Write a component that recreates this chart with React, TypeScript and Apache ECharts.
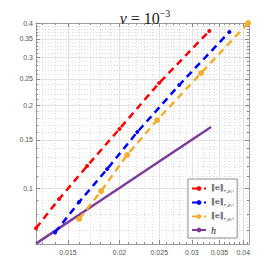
import React, { useEffect, useRef } from "react";
import * as echarts from "echarts";

// tick values
const xMajorTicks = [0.015, 0.02, 0.025, 0.03, 0.035, 0.04];
const yMajorTicks = [0.1, 0.15, 0.2, 0.25, 0.3, 0.35, 0.4];
const xMinorTicks = [0.013, 0.014, 0.016, 0.017, 0.018, 0.019, 0.021, 0.022, 0.023, 0.024, 0.026, 0.027, 0.028, 0.029, 0.031, 0.032, 0.033, 0.034, 0.036, 0.037, 0.038, 0.039, 0.041];
const yMinorTicks = [0.07, 0.08, 0.09, 0.11, 0.12, 0.13, 0.14, 0.16, 0.17, 0.18, 0.19, 0.21, 0.22, 0.23, 0.24, 0.26, 0.27, 0.28, 0.29, 0.31, 0.32, 0.33, 0.34, 0.36, 0.37, 0.38, 0.39];
const xRange = [0.01254, 0.0413];
const yRange = [0.0625, 0.4];

// series
const redH = [0.01254, 0.01427, 0.01669, 0.02, 0.02498, 0.03307];
const redErr = [0.0714, 0.0912, 0.1203, 0.1642, 0.2417, 0.374];
const blueH = [0.01395, 0.01596, 0.01867, 0.0221, 0.02795, 0.037];
const blueErr = [0.0688, 0.0889, 0.1173, 0.16, 0.2376, 0.371];
const orangeH = [0.01596, 0.01805, 0.02088, 0.0247, 0.0316, 0.0411];
const orangeErr = [0.0771, 0.0975, 0.132, 0.177, 0.2628, 0.4];
const refH = [0.01254, 0.01427, 0.01669, 0.02, 0.02498, 0.0334];
const refVal = [0.0627, 0.0714, 0.0835, 0.1, 0.1249, 0.167];

const names = ["‖e‖*,𝒯ₕ²", "‖e‖*,𝒯ₕ¹", "‖e‖*,𝒯ₕ⁰", "h"];

const L = Math.log;
const pts = (xs: number[], ys: number[]) => xs.map((x, i) => [L(x), L(ys[i])]);
const fmt = (v: number) => String(Number(Math.exp(v).toPrecision(3)));

const frame = "#9c9c9c";
const tickCol = "#8a8a8a";

function App() {
  const ref = useRef<HTMLDivElement>(null);
  useEffect(() => {
    const chart = echarts.init(ref.current!, undefined, { renderer: "svg" });
    const xBase = { type: "value", min: L(xRange[0]), max: L(xRange[1]) };
    const yBase = { type: "value", min: L(yRange[0]), max: L(yRange[1]) };
    const major = (vals: number[], withLabels: boolean, labelMargin: number) => ({
      axisLine: { show: true, onZero: false, lineStyle: { color: frame, width: 1 } },
      axisTick: { show: true, inside: true, length: 4, customValues: vals.map(L), lineStyle: { color: tickCol } },
      axisLabel: withLabels
        ? { show: true, customValues: vals.map(L), formatter: fmt, fontSize: 7, color: "#555", margin: labelMargin, fontFamily: "Liberation Sans" }
        : { show: false },
    });
    const minor = (vals: number[]) => ({
      axisLine: { show: false, onZero: false },
      axisTick: { show: true, inside: true, length: 2, customValues: vals.map(L), lineStyle: { color: tickCol } },
      axisLabel: { show: false },
    });
    const option: any = {
      animation: false,
      title: {
        text: "{i|ν}{a| = 10}{b|−3}",
        left: 140,
        textAlign: "center",
        top: 3,
        textStyle: {
          fontWeight: "normal",
          rich: {
            i: { fontFamily: "Liberation Serif", fontStyle: "italic", fontWeight: "normal", fontSize: 16, color: "#222", lineHeight: 18, verticalAlign: "bottom" },
            a: { fontFamily: "Liberation Serif", fontWeight: "normal", fontSize: 16, color: "#222", lineHeight: 18, verticalAlign: "bottom" },
            b: { fontFamily: "Liberation Serif", fontWeight: "normal", fontSize: 10, color: "#222", lineHeight: 10, verticalAlign: "top" },
          },
        },
      },
      grid: { left: 36, right: 26, top: 23, bottom: 31, containLabel: false },
      xAxis: [
        { ...xBase, position: "bottom", ...major(xMajorTicks, true, 5), splitLine: { show: true, lineStyle: { color: "#e2e2e2", width: 1 } } },
        { ...xBase, position: "bottom", ...minor(xMinorTicks), splitLine: { show: true, lineStyle: { color: "#dcdcdc", width: 1, type: [1, 2] } } },
        { ...xBase, position: "top", ...major(xMajorTicks, false, 0), splitLine: { show: false } },
        { ...xBase, position: "top", ...minor(xMinorTicks), splitLine: { show: false } },
      ],
      yAxis: [
        { ...yBase, position: "left", ...major(yMajorTicks, true, 3), splitLine: { show: true, lineStyle: { color: "#e2e2e2", width: 1 } } },
        { ...yBase, position: "left", ...minor(yMinorTicks), splitLine: { show: true, lineStyle: { color: "#dcdcdc", width: 1, type: [1, 2] } } },
        { ...yBase, position: "right", ...major(yMajorTicks, false, 0), splitLine: { show: false } },
        { ...yBase, position: "right", ...minor(yMinorTicks), splitLine: { show: false } },
      ],
      legend: {
        orient: "vertical",
        left: 188,
        top: 179,
        padding: [4, 3, 3, 3],
        itemWidth: 14,
        itemHeight: 6,
        itemGap: 3,
        backgroundColor: "#fff",
        borderColor: "#8c8c8c",
        borderWidth: 1,
        data: names,
        formatter: (n: string) => (n === "h" ? "{h|h}" : "{n|‖e‖}{s|" + n.slice(3) + "}"),
        textStyle: {
          rich: {
            n: { fontFamily: "DejaVu Serif", fontSize: 8, color: "#222", lineHeight: 11, verticalAlign: "top" },
            s: { fontFamily: "DejaVu Serif", fontSize: 4.5, color: "#222", lineHeight: 6, verticalAlign: "bottom" },
            h: { fontFamily: "Liberation Serif", fontStyle: "italic", fontSize: 10, color: "#222", lineHeight: 11 },
          },
        },
      },
      series: [
        {
          name: names[0], type: "line", data: pts(redH, redErr), color: "#ff0000",
          lineStyle: { width: 2.5, type: [7, 5], color: "#ff0000" }, symbol: "circle", symbolSize: 4,
          itemStyle: { color: "#ff0000" }, z: 4,
        },
        {
          name: names[1], type: "line", data: pts(blueH, blueErr), color: "#0000ff",
          lineStyle: { width: 2.5, type: [7, 5], color: "#0000ff" }, symbol: "circle", symbolSize: 4,
          itemStyle: { color: "#0000ff" }, z: 4,
        },
        {
          name: names[2], type: "line", data: pts(orangeH, orangeErr), color: "#f0b030", clip: false,
          lineStyle: { width: 2.5, type: [7, 5], color: "#f0b030" }, symbol: "circle", symbolSize: 6,
          itemStyle: { color: "#f0b030" }, z: 4,
        },
        {
          name: names[3], type: "line", data: pts(refH, refVal), color: "#7d3c98",
          lineStyle: { width: 2.5, color: "#7d3c98" }, symbol: "none", z: 3,
        },
      ],
    };
    chart.setOption(option);
    return () => chart.dispose();
  }, []);
  return <div ref={ref} style={{ position: "fixed", left: 0, top: 0, width: 275, height: 275, background: "#fff" }} />;
}

export default App;
